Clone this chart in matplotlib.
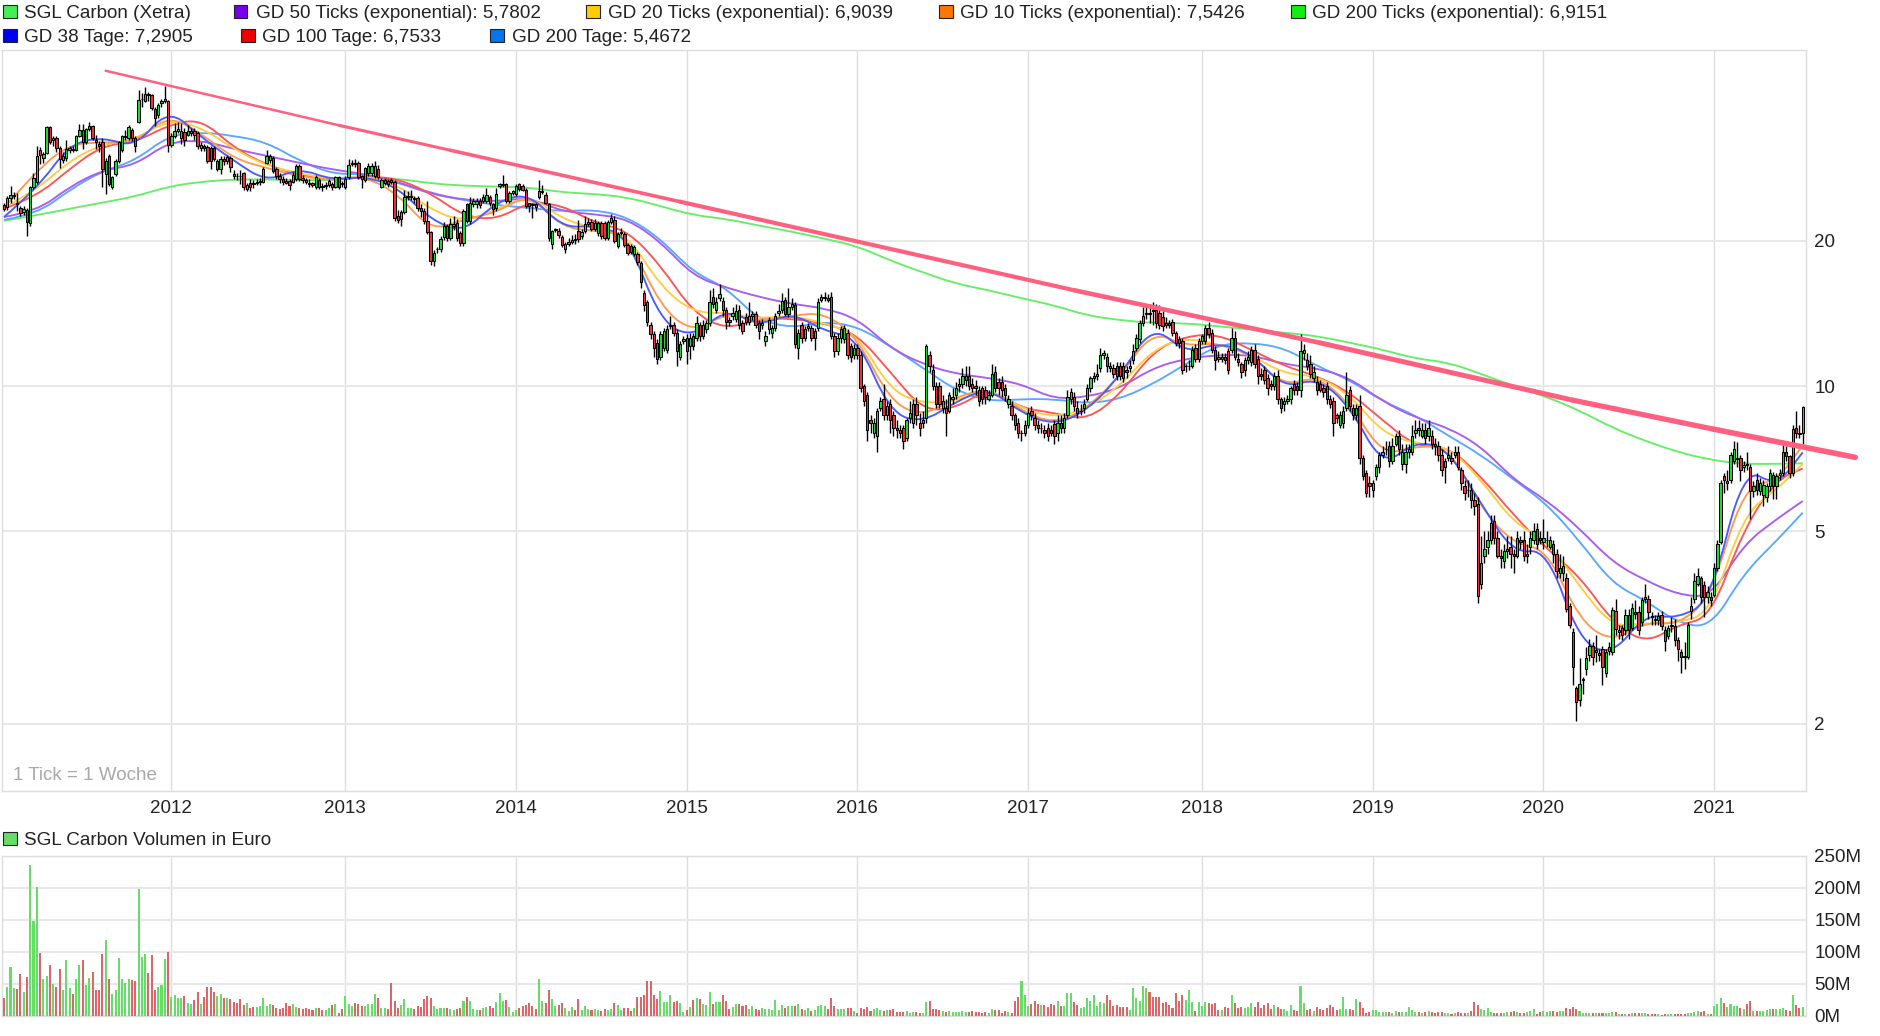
"""
SGL Carbon weekly candles with moving averages, trend line and volume
"""

import matplotlib
matplotlib.use("Agg")
import matplotlib.pyplot as plt
from matplotlib.patches import PathPatch, Rectangle
from matplotlib.path import Path

plt.rcParams['font.family'] = ['Liberation Sans', 'DejaVu Sans']

# Weekly prices
OPEN = [
    23.7,23.5,24.5,24.8,23.9,23.4,22.9,23.2,21.8,25.8,
    26.5,30.9,29.7,30.4,34.4,32.3,32.7,31.2,29.4,29.7,
    30.9,31.0,30.9,33,33.9,32,34.1,34.6,32.3,31.8,
    32,27.5,30,25.9,27.5,29.3,30.9,32.8,32.6,33.9,
    32.6,35.2,39.3,39,40.2,40,37.5,36.4,38.5,38.9,
    38.9,31.6,32.9,33.8,32.6,33.6,33.2,33.5,33.7,33.5,
    31.1,31.4,31.3,31.2,31.2,28.2,28.2,29.6,29.2,29.7,
    27.5,27.3,27.3,27.6,25.6,26.4,26.3,26.4,26.5,26.5,
    29,29.4,29.7,28.1,27.3,26.9,26.6,26.6,26.5,26.9,
    28.6,27,26.7,26.4,26.3,25.9,26.7,26,26,26.1,
    26.2,25.9,27.1,26.3,25.9,27.1,28.9,29,29,27.2,
    26.7,27.6,27.6,27.3,28.2,25.9,26.4,26.6,26.7,26.5,
    22.5,22.2,22.9,24.6,24.6,24.5,24.5,23.4,23.1,22,
    20.9,18.2,19.2,19.2,20.4,21.5,20.3,21.5,21.8,20.8,
    19.8,23.8,22,23.8,23.8,24.2,24.2,24.2,24.6,23.8,
    23.4,26,26.1,26.2,24.2,25.1,25,26.2,26,25.5,
    23.9,23.8,23.8,24.6,25.2,24.9,23.8,19.7,21.1,21,
    20.4,19.2,19.7,19.9,20.2,21,20.5,21,21.7,21.9,
    21.2,20.8,21.8,21.8,20.3,21.9,22.1,19.5,20.8,20.7,
    19.6,19.5,18.8,18.8,18,15.6,14.9,13.4,12.8,12.3,
    11.5,12,11.9,13.3,13.4,12.9,11.5,12.4,12.6,12.1,
    12.7,12.6,13.4,12.7,13.1,13.5,15.3,14.4,15.2,15,
    14.4,13.7,14,13.8,14.4,13.5,13.9,13.6,14,14.1,
    13.5,13.4,12.4,13.1,12.9,13.2,14.2,14.4,15.1,14.1,
    14.6,14.7,12,13.4,12.6,13.2,13.2,12.6,13.2,15.1,
    15.2,15.2,15.3,12.7,11.8,12.6,12.5,12.9,12.1,11.6,
    12,11.6,10,9.6,8.5,8,7.9,9,9.4,8.7,
    9.2,8.7,8.2,8.1,8.2,7.8,8.6,8.4,9.2,8.4,
    8.4,8.6,11.6,10.8,10,10,9,9,8.9,9.4,
    9.6,10,10.1,10.3,10.5,10.1,10,9.8,9.9,9.8,
    9.4,9.6,10.7,10.2,10.2,9.9,9.2,9.1,8.7,8.4,
    8,8,8.3,8.9,8.6,8.3,8.2,8.1,8.2,8.1,
    8.35,8,8.4,8.2,8.7,9.4,9.5,9,8.9,9,
    9.4,9.9,10.4,10.5,10.9,11.6,11.5,11,10.9,11,
    11,11,10.8,10.9,11.3,12,12.5,13.5,14.1,14.2,
    14.4,14.4,14.2,13.9,13.5,13.5,13.6,12.9,12.5,12.4,
    11,11,11,12,11.4,12.4,12.4,13.2,12.9,11.9,
    11.5,11.4,11.5,11.8,11.9,12.6,11.4,11.1,10.8,11.3,
    11.2,11.9,11.4,10.6,10.8,10.4,10.1,10,10.5,9.4,
    9.2,9.3,9.4,10.1,10,9.8,11.7,11.3,11.1,10.4,
    10.2,10.1,9.9,10,9.4,9.3,8.7,8.3,8.4,9,
    9.8,9,8.7,9.1,7.1,6.6,6.3,6.1,6.5,6.8,
    7.2,7.4,7.5,7,7.6,7.9,6.9,6.9,7.3,7.3,
    8,8.2,7.9,8.1,7.9,7.9,7.6,7.5,7.2,6.8,
    7.1,7.1,7.2,7.3,6.7,6.2,6.1,6.1,5.8,5.7,
    3.9,4.45,4.65,4.8,5.25,4.85,4.45,4.35,4.55,4.65,
    4.5,4.45,4.8,4.8,4.45,4.65,4.8,5.05,4.85,4.75,
    4.8,4.65,4.7,4.5,4.1,4.1,4,3.5,3.1,2.37,
    2.24,2.46,2.6,2.78,2.9,2.82,2.8,2.85,2.55,2.83,
    2.82,3.42,3.1,3.16,3.12,3.35,3.16,3.4,3.4,3.24,
    3.62,3.62,3.34,3.3,3.28,3.35,3.12,3.04,3.18,3.18,
    2.98,2.82,2.76,2.75,3.42,3.62,3.9,4,3.88,3.65,
    3.65,3.7,4.2,4.75,6.5,6.3,6.4,7,7.05,7.1,
    6.8,6.9,6.8,6.05,6.4,6.05,5.95,5.9,6.2,6.55,
    6.2,6.55,6.6,7.3,7.15,6.6,8.2,8,8,
]
CLOSE = [
    23.3,24.5,24.9,24.9,23.8,22.8,23.3,21.9,25.8,27,
    30,30.1,30.3,34.4,32.1,32.7,31.2,29.5,30,31,
    31.1,30.9,33,33.9,32,34.1,34.6,32.7,32.1,31.4,
    28.2,29.3,26.2,27.1,29.3,32,33,33,34.4,32.6,
    31.4,39.2,39.4,40.3,40,37.7,36,38.2,39,39.3,
    31.6,33,33.8,34.1,33.8,32.4,33.8,33.8,33.2,31.4,
    31.6,31.1,29.3,29.2,29.6,29.2,29.6,29.3,29.8,28.5,
    27.3,27.2,27.2,25.8,26.1,25.8,26.2,26.5,26.6,28.2,
    30,29.9,27.9,27.2,26.9,26.5,26.4,26.1,27.4,28.6,
    26.9,26.7,26.5,26.2,26.1,27.1,25.9,25.8,26.1,26.6,
    25.9,27.1,25.8,26.2,26.9,28.7,29,28.9,27.1,26.8,
    28.3,28.6,28.6,28.6,27.1,26.7,26.7,26.2,26.5,22.3,
    22.1,22.9,24.6,24.8,24.8,24.4,23.4,23,22,20.9,
    18.2,18.9,19.2,20.2,21.5,20.3,21.7,21.7,20.3,19.8,
    23,22,24,24.2,24.2,23.7,24.7,24.9,24,23.3,
    25,26.2,26.2,24.2,25.1,25.3,26,25.6,25.5,23.6,
    23.6,23.7,23.5,25.3,25.4,24,20.3,21,21.2,20.6,
    19.6,19.7,19.9,20.1,20.1,20.2,20.9,21.7,21.9,21.2,
    21.8,21.8,20.5,20.3,21.9,22.3,20,20.7,20.9,19.6,
    18.9,19,19.4,18.1,16.4,14.7,13.6,12.8,12,11.4,
    12.8,13,13.1,13.4,12.9,11.8,12.2,12.5,11.8,12.6,
    12.1,13.5,12.7,13.4,13.5,14.9,14.8,14.9,15.5,14.4,
    13.6,13.6,14.2,14.3,13.4,13,13.6,14,14.1,13.4,
    13,13.5,12.7,13.7,13.2,14,14.3,15,14.1,14.6,
    14.8,12.2,12.9,12.6,13.1,13.3,12.6,13,14.9,15.3,
    15.3,15.1,12.7,11.8,12.6,13.1,13.2,11.6,11.5,12,
    11.6,9.9,9.3,8.1,8.4,8.4,8.9,9.3,8.7,9.1,
    8.5,8.2,8.1,8,7.7,8.5,8.8,9.2,8.7,8.2,
    8.5,12.1,11,10,9.2,9.2,9.3,8.8,9.6,9.5,
    9.9,10.1,10.5,10.5,10,9.9,9.9,9.3,9.4,9.5,
    9.6,10.6,9.9,9.9,9.8,9.6,9.4,8.7,8.3,8,
    8,8.3,8.8,8.7,8.3,8.2,8.2,8,7.9,8,
    7.9,8.4,8.2,8.6,9.5,9.7,9.1,8.8,8.9,9.2,
    9.9,10.4,10.5,10.6,11.6,11.7,11,10.9,10.6,10.5,
    10.5,10.4,10.7,11,11.8,12.6,13.5,14,14.2,14.1,
    14.3,13.5,13.4,13.3,13.4,13.4,12.9,12.3,12.3,10.8,
    11,11,11.9,11.4,12.4,12.7,13.2,12.8,11.9,11.3,
    11.4,11.5,11.3,10.8,12.6,11.5,11.2,10.7,11.3,11.5,
    11.9,11.1,10.5,10.5,10.3,9.9,10,10.5,9.4,9,
    9.3,9.4,9.9,9.8,9.8,11.8,11.9,11,10.6,10.7,
    9.8,9.8,9.7,9.4,9.2,8.4,8.6,8.7,8.9,9.6,
    9.1,8.7,9,7.1,6.5,6,6.2,6.3,6.8,7.2,
    7.3,7.4,7,7.5,7.9,7.4,7.3,7.3,7.4,7.9,
    8.1,8.1,8.1,7.8,8.2,7.6,7.5,7.2,6.7,7,
    7.2,7,7.3,6.8,6.3,6,6.1,5.8,5.65,3.68,
    4.3,4.6,4.8,5.2,4.85,4.45,4.4,4.55,4.6,4.5,
    4.45,4.85,4.75,4.45,4.5,4.85,5,4.7,4.8,4.85,
    4.8,4.8,4.5,4.15,4.2,4.25,3.45,3.2,2.62,2.22,
    2.42,2.47,2.73,2.9,2.75,2.84,2.78,2.62,2.82,2.88,
    3.43,3.14,3.13,3.05,3.35,3.12,3.47,3.38,3.12,3.6,
    3.66,3.4,3.32,3.28,3.34,3.19,2.96,3.16,3.2,2.98,
    2.86,2.75,2.75,3.2,3.5,3.95,4.05,3.65,3.65,3.75,
    3.6,4.2,4.7,6.3,6.4,6.35,7.2,7.4,7.1,6.7,
    6.85,6.85,6.05,6.2,6.1,6.3,6.25,6.2,6.6,6.2,
    6.5,6.6,7.3,7.15,6.6,8.15,8,7.95,9.05,
]
HIGH = [
    24,24.8,26,25.2,25.1,23.6,23.6,23.4,26,27.6,
    31.4,31.3,30.6,34.6,34.6,33,33,31.5,30.5,32.3,
    31.5,31.4,33.2,34.9,34.9,34.3,35.3,34.8,33.2,32.2,
    32.6,29.7,30.3,27.3,29.6,32.2,33.2,34,34.7,34.2,
    32.9,41,40.5,41.6,40.6,40.3,37.8,38.5,39.4,41.9,
    39.2,33.4,35,35.2,35,34.2,34.7,34.2,34.2,33.7,
    32,31.8,31.6,31.5,31.4,29.5,29.9,30,30.1,30,
    28,27.6,28,27.7,26.3,26.8,26.7,26.9,27,28.4,
    30.8,30.2,30,28.4,27.6,27.3,27,26.8,27.7,28.9,
    28.8,27.4,27,26.8,26.5,27.4,27,26.3,26.5,26.9,
    26.5,27.3,27.3,26.6,27.2,29.6,29.4,29.5,29.3,27.4,
    28.5,29,29,29.2,28.7,27,27,26.9,27,26.7,
    23.2,23.2,25.5,25.4,25.5,24.8,24.8,23.8,23.4,24.2,
    21,19.1,19.4,20.5,21.9,21.7,22.3,22.5,22.2,21,
    23.3,24,24.7,24.5,24.5,24.5,25,25.7,24.9,24,
    25.7,26.4,27.4,26.4,25.4,25.5,26.2,26.4,26.2,25.7,
    24,24,24,26.7,26.1,25.2,24,21.1,21.3,21.3,
    20.6,19.9,20.3,20.6,20.7,22.1,21.2,22.5,22.3,22.2,
    22.2,22,22,22,22.1,22.7,22.5,20.9,21.3,20.9,
    19.8,19.7,19.6,19,18.2,15.8,15.1,13.6,13,12.5,
    13,13.2,13.4,14,13.6,13.1,12.4,12.7,12.8,12.9,
    12.9,14,13.6,13.7,13.7,15.8,16,15.3,16.3,15.3,
    14.6,13.9,14.6,14.8,14.7,13.7,14.2,14.9,14.3,14.3,
    13.7,13.8,13,13.9,13.4,14.2,14.8,15.6,15.3,16,
    15.2,14.9,13.1,13.6,13.3,13.5,13.4,13.2,15.2,15.5,
    15.7,15.5,15.7,12.9,12.9,13.3,13.4,13.1,12.3,12.2,
    12.2,11.8,10.1,9.7,8.7,8.6,9,9.5,10.1,9.3,
    9.4,8.9,8.5,8.3,8.3,8.6,9.3,9.4,9.5,8.8,
    8.9,12.2,11.8,11.1,10.2,10.2,9.6,9.4,9.7,9.9,
    10.2,10.4,10.9,11,11,10.4,10.3,10,10,10,
    9.8,11.1,11,10.4,10.5,10.1,9.6,9.3,8.8,8.6,
    8.1,8.5,9,9.1,8.8,8.5,8.4,8.3,8.4,8.3,
    8.5,8.7,8.7,8.8,9.8,9.9,9.7,9.3,9.2,9.4,
    10.1,10.5,10.7,11.1,12,11.9,11.7,11.2,11.1,11.2,
    11.2,11.2,11,11.3,12.2,12.8,13.7,14.6,14.8,14.8,
    14.9,14.8,14.7,14.3,13.9,13.7,13.8,13,12.7,12.6,
    11.1,11.3,12.1,12.2,12.6,12.8,13.4,13.6,13.1,12.1,
    11.8,11.7,11.7,12,13.2,13,11.7,11.2,11.5,11.8,
    12.1,12.2,11.6,10.9,11,10.6,10.3,10.7,10.8,9.5,
    9.5,9.6,10,10.3,10.2,12.8,12.2,11.7,11.6,11,
    10.5,10.3,10.1,10.2,9.6,9.5,8.8,8.9,9.1,10.7,
    10,9.2,9.2,9.6,7.2,6.7,6.5,6.4,6.9,7.3,
    7.5,7.7,7.7,7.8,8,8.1,7.6,7.6,7.6,8.3,
    8.5,8.5,8.4,8.4,8.5,8.1,7.8,7.7,7.4,7.1,
    7.5,7.3,7.5,7.5,6.8,6.4,6.4,6.3,6,5.9,
    4.9,5,5,5.4,5.4,5,4.6,4.7,4.9,4.9,
    4.6,5,4.9,5,4.7,5,5.2,5.2,5,5.3,
    5,4.9,4.8,4.6,4.5,4.45,4.1,3.55,3.15,2.39,
    2.73,2.5,2.88,3,2.95,3.05,2.85,2.9,2.85,2.95,
    3.48,3.62,3.2,3.2,3.45,3.45,3.55,3.6,3.5,3.65,
    3.9,3.7,3.4,3.36,3.4,3.42,3.18,3.2,3.32,3.3,
    3.02,2.85,2.95,3.25,3.65,4.1,4.2,4.05,3.95,3.85,
    3.75,4.3,4.8,6.4,6.6,6.7,7.3,7.7,7.65,7.2,
    7,7.3,6.9,6.35,6.6,6.45,6.4,6.3,6.75,6.65,
    6.6,6.75,7.6,7.5,7.2,8.3,8.9,8.3,9.1,
]
LOW = [
    23,23.2,24,24.4,23,22.5,22.6,20.5,21.5,25.6,
    26.2,28.8,29,30.2,31.8,31.5,30.5,28.3,29,29.3,
    30.4,30.6,30.7,32.8,31,31.8,33.8,32.3,31,30.5,
    25.9,25,26,25.6,27.3,29,30.6,32.4,32.3,32.2,
    30.5,35,37.8,38.7,39,37.3,34.5,36,37.9,38.5,
    30.5,31.3,32.6,33.4,31.8,31.5,32.9,33,32.4,31,
    30.7,30.7,29,28.2,29.3,27.9,27.5,28.7,28.8,27.8,
    26.9,26.7,26.2,25.5,25.3,25.4,25.7,26.1,26.1,26.3,
    28.8,29,27.6,26.9,26.4,26.1,26.2,25.5,26.3,26.6,
    26.6,26.3,26.2,25.9,25.8,25.6,25.6,25.3,25.6,25.9,
    25.5,25.7,25.6,25.9,25.6,26.9,28.6,28.4,26.9,25.7,
    26.5,27.3,27.3,27,26.9,25.7,26.1,25.9,26.2,22,
    21.8,21.5,22.7,24.3,24.3,24,23.1,22.4,21.7,20.7,
    17.8,17.7,18.9,19,20.1,20,20.1,21.1,20,19.5,
    19.5,21.8,21.7,23.5,23.4,23.4,24,24,23.6,22.6,
    23.1,25.7,25.8,24,23.9,24.9,24.8,25.3,25.3,23.4,
    22.9,22.3,23.1,24.4,25,23.8,20,19.2,20.9,20.3,
    19.4,18.9,19.5,19.7,19.7,19.9,20.2,20.8,21.5,21,
    21,20.5,20.2,20.1,20.1,21.7,19.8,19.3,20.6,19.4,
    18.7,18.8,18.6,17.8,16,14.3,13.3,12.5,11.5,11.1,
    11.3,11.8,11.7,13.1,12.7,11,11.3,12.2,11.1,11.4,
    11.9,12.4,12.4,12.5,12.9,13.3,14.5,14.2,15,14,
    13.1,13.3,13.7,13.6,13.1,12.8,13.4,13.4,13.7,13.2,
    12.5,13.1,12.1,12.8,12.6,13,14,14.2,14,13.9,
    14.4,12,11.4,12.3,12.4,13,12.4,11.9,13,14.9,
    15,14.9,12.5,11.5,11.6,12.3,12.3,11.4,11.2,11.4,
    11.4,9.7,9.1,7.7,8,7.8,7.3,8.9,8.5,8.5,
    8,7.9,7.8,7.8,7.4,7.7,8.4,8.2,8.3,7.9,
    8.2,8.4,10.7,9.8,9,9,8.8,7.9,8.8,9.2,
    9.4,9.7,9.9,10,9.8,9.7,9.6,9.1,9.2,9.2,
    9.3,9.5,9.7,9.6,9.5,9.3,9,8.5,8.1,7.8,
    7.7,7.9,8.2,8.5,8.1,8,8,7.8,7.7,7.9,
    7.6,7.7,8,8,8.6,9.2,8.9,8.6,8.7,8.8,
    9.3,9.7,10.2,10.3,10.7,11.4,10.7,10.7,10.4,10.3,
    10.3,10.2,10.4,10.7,11.1,11.8,12.3,13.3,13.8,13.5,
    13.4,13.2,13.1,13,13.2,13.2,12.7,12.1,12,10.6,
    10.7,10.8,10.9,11.2,11.2,12.2,12.2,12.6,11.7,10.8,
    11.2,11.2,11.1,10.6,11.7,11.3,11,10.4,10.5,11.1,
    11,10.9,10.1,10.3,10.1,9.6,9.8,9.8,9.2,8.8,
    8.9,9.2,9.2,9.6,9.6,9.5,11.3,10.8,10.4,10.2,
    9.6,9.7,9.5,9.2,9,7.9,8.4,8.2,8.2,8.9,
    8.9,8.5,8.5,6.9,6.4,5.9,5.9,5.9,6.4,6.6,
    7.1,7.2,6.8,6.9,7.5,7.2,6.7,6.6,7.1,7.2,
    7.8,7.9,7.8,7.6,7.7,7.4,7.2,7,6.5,6.3,
    7,6.9,7.1,6.7,6.1,5.8,5.9,5.6,5.4,3.55,
    3.8,4.3,4.5,4.7,4.7,4.4,4.2,4.2,4.4,4.2,
    4.1,4.4,4.6,4.35,4.3,4.5,4.7,4.6,4.7,4.6,
    4.65,4.6,4.3,4,4,3.95,3.4,3.15,2.4,2.02,
    2.17,2.3,2.52,2.7,2.65,2.68,2.7,2.4,2.5,2.78,
    2.78,3.05,3,2.98,3.05,3,3.12,3.3,3.05,3.18,
    3.55,3.3,3.2,3.2,3.2,3.12,2.83,3,3.1,2.9,
    2.7,2.55,2.6,2.72,3.3,3.55,3.85,3.55,3.32,3.55,
    3.5,3.65,4.15,4.7,6,6.1,6.3,6.9,6.8,6.35,
    6.65,6.7,5.3,5.9,5.95,5.95,5.65,5.75,6.05,5.85,
    5.85,6.4,6.5,7,6.45,6.5,7.8,7.8,7.6,
]
# Weekly turnover in million euro
VOLUME = [
    28,45,77,43,42,66,37,60,236,149,
    202,98,57,62,79,49,45,73,40,87,
    43,34,57,79,87,48,59,68,40,40,
    96,118,57,34,40,90,57,51,57,56,
    54,198,92,96,67,95,40,45,48,88,
    99,29,32,28,28,31,20,18,24,37,
    18,29,45,45,37,31,34,28,28,26,
    21,20,26,17,20,12,14,14,15,28,
    15,18,17,12,10,12,20,15,18,14,
    12,10,12,10,9,12,12,9,9,12,
    17,18,4,10,31,18,15,20,18,15,
    15,18,18,34,28,12,12,10,51,23,
    12,17,26,12,12,10,15,14,26,31,
    28,15,10,12,12,12,10,9,10,12,
    23,29,23,10,9,9,12,14,15,12,
    21,35,23,24,13,6,9,12,15,16,
    20,15,10,57,23,20,40,26,15,16,
    20,12,7,13,9,26,9,15,10,9,
    10,9,7,10,9,10,20,16,9,12,
    12,7,12,29,29,32,55,55,32,26,
    38,21,21,33,21,23,20,6,9,13,
    24,27,26,18,16,37,18,21,21,33,
    23,10,13,18,18,15,16,10,15,10,
    9,12,10,10,9,24,9,16,12,15,
    15,15,18,10,9,12,7,9,15,16,
    15,10,27,15,10,10,10,12,12,7,
    4,12,10,13,7,10,12,9,7,9,
    9,10,6,6,6,7,4,6,6,4,
    4,21,23,10,10,9,7,6,7,6,
    6,6,7,6,6,7,6,6,4,6,
    4,10,9,9,4,7,6,4,23,30,
    54,33,15,18,23,18,16,16,13,18,
    16,23,15,15,35,35,21,16,12,13,
    27,23,33,15,21,20,33,24,15,16,
    13,13,13,9,44,27,23,47,43,37,
    29,29,29,20,21,16,12,35,23,32,
    24,40,21,7,21,15,21,20,18,20,
    9,9,13,12,32,20,12,13,12,13,
    20,13,21,12,16,20,10,16,13,10,
    10,7,16,9,7,46,20,9,10,7,
    13,10,9,12,16,13,9,10,30,10,
    10,9,26,21,12,4,6,9,9,6,
    6,6,6,4,7,6,6,6,13,9,
    6,6,4,6,7,6,4,6,6,4,
    4,3,4,6,4,4,4,7,21,16,
    10,9,12,6,4,4,4,4,6,6,
    7,6,4,4,6,7,10,3,6,7,
    6,7,7,6,7,7,12,10,13,10,
    7,4,4,4,4,4,4,4,4,4,
    6,6,3,3,3,3,4,4,4,4,
    4,3,3,3,3,1,3,3,3,3,
    3,3,3,4,4,6,7,6,7,3,
    3,15,18,27,20,13,18,15,15,12,
    10,18,23,7,7,7,7,9,10,10,
    10,10,12,9,7,32,16,12,13,
]

# Moving averages, read every ten weeks
MA_WEEKS = list(range(0, 550, 10))[:55] + [548]
GD50_TICKS = [
    22.4,23,25.9,28,28.7,32,32.3,31,30,29,28.1,
    27.5,26.5,25.1,24.3,24.1,24.6,23,22.7,22.2,19.9,
    16.9,16,15.3,14.8,14.5,13.8,12,11.1,10.6,
    10.4,10.1,9.4,9.5,9.9,10.9,11.4,11.6,11.6,11.1,10.9,
    10.4,9.3,8.6,8.2,7.5,6.4,5.8,
    5.07,4.32,3.96,3.7,3.65,4.7,5.3,5.78,
]
GD20_TICKS = [
    23.4,25.5,29.3,31.7,32.4,35.6,34.4,31,28.6,27.6,26.8,
    27.3,26.1,23.2,21.9,23.2,24.9,22.2,21.2,20.6,16.1,
    14.2,14.2,13.8,14,13.5,12.8,9.8,9.2,9.3,
    9.9,9,8.6,9,10,11.9,12.6,12.2,11.6,10.6,10.5,
    9.6,8,7.6,7.5,6.4,5.2,4.8,
    3.85,3.17,3.23,3.23,3.4,5.42,6.1,6.9,
]
GD10_TICKS = [
    23.4,28,31.7,32,32,36.4,33.4,29.6,28.3,27.2,26.7,
    27.2,25,21,22.1,22.9,25,21.3,21,20.5,14.6,
    12.9,14.2,13.6,14,14.2,12.6,9.3,8.65,9.5,
    9.9,8.9,8.35,9,10.5,13,12.1,12.3,11.6,10,10.5,
    9.2,7.2,7.5,7.5,5.6,4.7,4.6,
    3.27,2.95,3.25,3.2,3.65,6.2,6.35,7.54,
]
GD200_TICKS = [
    22,22.6,23.3,24,24.7,25.9,26.5,26.8,26.8,26.7,26.7,
    27.1,26.9,26.3,26,25.9,25.8,25.2,25,24.6,23.6,
    22.6,22.2,21.5,20.9,20.2,19.5,18.2,17.2,16.3,
    15.8,15.2,14.7,14,13.7,13.5,13.5,13.3,13.1,12.9,12.7,
    12.3,11.9,11.4,11.2,10.6,10,9.5,
    8.9,8.2,7.7,7.3,7.03,6.9,6.9,6.92,
]
GD38_TAGE = [
    22.4,25.6,31.7,32.8,31.2,37.6,32.8,29.3,26.5,28.3,26.7,
    27.2,25.8,22.1,20.8,24.1,25.1,21.3,21.5,20.5,13.6,
    12.6,14.5,13.3,14.2,13,12.6,8.8,8.4,9.3,
    9.9,8.8,8.3,8.9,10.5,13.4,11.7,12.3,11.7,9.9,10.4,
    9.1,6.8,7.7,7.4,5.7,4.5,4.6,
    2.96,2.77,3.37,3.3,3.6,6.8,6.2,7.29,
]
GD100_TAGE = [
    23.3,24.7,28.2,31.5,32,34.7,35.8,31.2,28.7,27.4,26.6,
    27.2,26.9,25.1,22.5,22.1,24.1,23.7,21.8,21,17.8,
    14.2,13.1,13.8,13.8,13.5,12.8,10.7,8.9,9,
    9.9,9,8.8,8.5,9.6,11.8,12.7,12.8,11.9,11,10.5,
    9.7,8.5,7.5,7.5,6.5,5.4,4.6,
    4.04,3.25,2.93,3.2,3.32,5.06,6.4,6.75,
]
GD200_TAGE = [
    22.1,22.7,25.5,27.9,29.3,33,33.6,33,32,29.3,27.5,
    27.5,26.4,25,24.3,23.7,23.4,23,23.2,22.4,20.2,
    17.2,16,13.7,13.2,13.6,13.3,12.1,10.9,9.8,
    9.3,9.4,9.4,9.2,9.4,10.1,11.1,12.2,12.3,12,11,
    10.3,9.3,8.7,7.9,7.2,6.4,5.7,
    4.78,3.9,3.6,3.23,3.16,4.09,4.78,5.47,
]

# Hand drawn resistance line
TREND_WEEKS = [31, 102, 136, 206, 326, 401, 478, 521, 564]
TREND_PRICES = [45.0, 34.7, 30.8, 24.1, 15.8, 12.29, 9.35, 8.14, 7.12]
TREND_WIDTHS = [1.8, 2.2, 2.6, 3.0, 3.3, 3.6, 3.8, 4.0]

YEARS = ['2012', '2013', '2014', '2015', '2016', '2017', '2018', '2019', '2020', '2021']
YEAR_WEEKS = [51, 104, 156, 208, 260, 312, 365, 417, 469, 521]
PRICE_TICKS = [2, 5, 10, 20]
VOLUME_TICKS = [0, 50, 100, 150, 200, 250]

LEGEND_ROW1 = [
    ('SGL Carbon (Xetra)', '#44ee55', 3),
    ('GD 50 Ticks (exponential): 5,7802', '#7700ee', 234),
    ('GD 20 Ticks (exponential): 6,9039', '#ffcc00', 586),
    ('GD 10 Ticks (exponential): 7,5426', '#ff7700', 939),
    ('GD 200 Ticks (exponential): 6,9151', '#11ee11', 1291),
]
LEGEND_ROW2 = [
    ('GD 38 Tage: 7,2905', '#0000ee', 3),
    ('GD 100 Tage: 6,7533', '#ee0000', 241),
    ('GD 200 Tage: 5,4672', '#0077ee', 490),
]

W, H = 1880, 1036
GRID_V = '#dddddd'
GRID_H = '#e8e8e8'
TEXT = '#222222'
UP = '#22dd33'
DOWN = '#ee3333'
VOL_UP = '#66dd66'
VOL_DOWN = '#dd6666'
FS = 13.6

weeks = list(range(len(CLOSE)))
rising = [c >= o for o, c in zip(OPEN, CLOSE)]


def pixel_axes(left, top, right, bottom):
    return fig.add_axes([left / W, 1 - bottom / H, (right - left) / W, (bottom - top) / H])


def add_swatch(x, y, color):
    fig.add_artist(Rectangle((x / W, 1 - (y + 6.5) / H), 13.5 / W, 13.5 / H, facecolor=color,
                             edgecolor='#222222', linewidth=0.8, transform=fig.transFigure))


def style_axes(ax):
    for spine in ax.spines.values():
        spine.set_color(GRID_V)
        spine.set_linewidth(1.0)
    ax.yaxis.tick_right()
    ax.set_xlim(-0.5, 549)
    ax.set_xticks(YEAR_WEEKS)
    ax.tick_params(axis='both', which='both', length=0, labelsize=13.5, colors=TEXT)
    ax.xaxis.grid(True, color=GRID_V, linewidth=1.0)
    ax.yaxis.grid(True, color=GRID_H, linewidth=1.5)
    ax.set_axisbelow(True)


def rounded_line(xs, ys):
    # the read values act as curve control points so the average has no corners
    verts = [(xs[0], ys[0])]
    codes = [Path.MOVETO]
    for i in range(1, len(xs) - 1):
        mid = ((xs[i] + xs[i + 1]) / 2, (ys[i] * ys[i + 1]) ** 0.5)
        verts += [(xs[i], ys[i]), mid]
        codes += [Path.CURVE3, Path.CURVE3]
    verts.append((xs[-1], ys[-1]))
    codes.append(Path.LINETO)
    return Path(verts, codes)


fig = plt.figure(figsize=(W / 100, H / 100), dpi=100, facecolor='white')

# Price panel
ax = pixel_axes(2.3, 49.5, 1806, 790.7)
ax.set_yscale('log')
ax.set_ylim(1.452, 49.8)
style_axes(ax)
ax.set_yticks(PRICE_TICKS)
ax.set_yticklabels([str(t) for t in PRICE_TICKS])
ax.minorticks_off()
ax.set_xticklabels(YEARS)
ax.tick_params(axis='x', pad=6.5)
ax.tick_params(axis='y', pad=6)

ma_lines = [
    (GD200_TICKS, '#66ee66'),
    (GD200_TAGE, '#5aa8ff'),
    (GD50_TICKS, '#a85cf2'),
    (GD100_TAGE, '#ff5555'),
    (GD20_TICKS, '#ffcc44'),
    (GD10_TICKS, '#ff9a50'),
    (GD38_TAGE, '#4a5cff'),
]
for values, color in ma_lines:
    ax.add_patch(PathPatch(rounded_line(MA_WEEKS, values), facecolor='none', edgecolor=color,
                           linewidth=1.35, zorder=2))

ax.vlines(weeks, LOW, HIGH, color='black', linewidth=1.0, zorder=3)
body_bottom = [min(o, c) for o, c in zip(OPEN, CLOSE)]
body_height = [abs(o - c) for o, c in zip(OPEN, CLOSE)]
ax.bar(weeks, body_height, bottom=body_bottom, width=0.72,
       color=[UP if r else DOWN for r in rising], edgecolor='black', linewidth=0.75, zorder=4)

for i in range(len(TREND_WIDTHS)):
    ax.plot(TREND_WEEKS[i:i + 2], TREND_PRICES[i:i + 2], color='#ff6080',
            linewidth=TREND_WIDTHS[i], solid_capstyle='round', clip_on=False, zorder=5)

ax.text(13 / W, 1 - 775.5 / H, '1 Tick = 1 Woche', transform=fig.transFigure, color='#a8a8a8',
        fontsize=FS, va='center', ha='left')

# Volume panel
vax = pixel_axes(2.3, 856, 1806, 1015.7)
style_axes(vax)
vax.set_ylim(0, 250)
vax.set_yticks(VOLUME_TICKS)
vax.set_yticklabels([f'{t}M' for t in VOLUME_TICKS])
vax.set_xticklabels([])
vax.tick_params(axis='y', pad=6)
vax.bar(weeks, VOLUME, width=0.62, color=[VOL_UP if r else VOL_DOWN for r in rising],
        linewidth=0, zorder=3)

# Legends
for label, color, x in LEGEND_ROW1:
    add_swatch(x, 11.7, color)
    fig.text((x + 21.5) / W, 1 - 13.0 / H, label, fontsize=FS, color=TEXT, va='center')
for label, color, x in LEGEND_ROW2:
    add_swatch(x, 35.7, color)
    fig.text((x + 21.5) / W, 1 - 37.0 / H, label, fontsize=FS, color=TEXT, va='center')
add_swatch(3, 838.7, VOL_UP)
fig.text(24.5 / W, 1 - 840.5 / H, 'SGL Carbon Volumen in Euro', fontsize=FS, color=TEXT, va='center')

fig.savefig('out.png', dpi=100)
